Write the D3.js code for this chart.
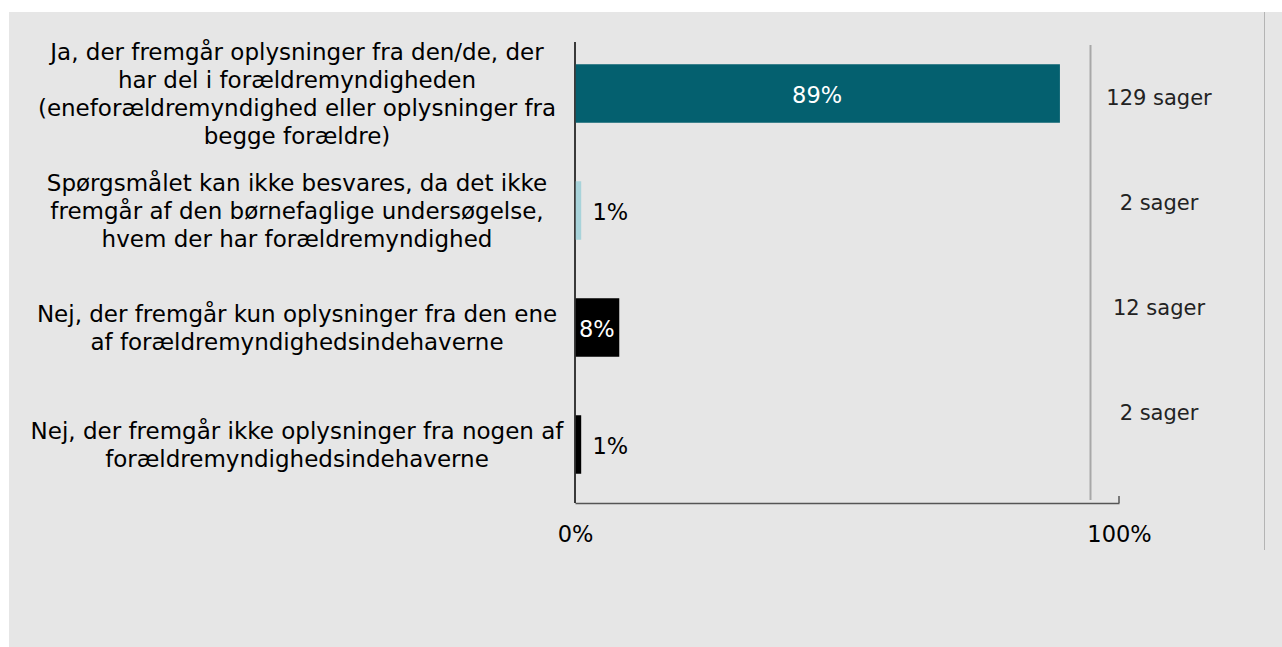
<html>
<head>
    <style>
        body { margin: 0; background-color: #ffffff; }
        svg { display: block; }
        text { font-family: "DejaVu Sans", Verdana, sans-serif; }
    </style>
</head>
<body>
    <div id="chart"></div>
    <script src="https://cdn.jsdelivr.net/npm/d3@7"></script>
    <script>
        // data
        const categories = [
            ["Ja, der fremgår oplysninger fra den/de, der", "har del i forældremyndigheden", "(eneforældremyndighed eller oplysninger fra", "begge forældre)"],
            ["Spørgsmålet kan ikke besvares, da det ikke", "fremgår af den børnefaglige undersøgelse,", "hvem der har forældremyndighed"],
            ["Nej, der fremgår kun oplysninger fra den ene", "af forældremyndighedsindehaverne"],
            ["Nej, der fremgår ikke oplysninger fra nogen af", "forældremyndighedsindehaverne"]
        ];
        const shares = [89, 1, 8, 1];
        const cases = [129, 2, 12, 2];
        const barColors = ["#04606f", "#a8d3da", "#000000", "#000000"];
        const xTicks = [0, 100];

        const width = 1282, height = 647;
        const fontSize = "22.5px";
        const svg = d3.select("#chart").append("svg")
            .attr("width", width).attr("height", height);

        svg.append("rect").attr("x", 9).attr("y", 12)
            .attr("width", width - 9).attr("height", height - 12)
            .attr("fill", "#e6e6e6");
        svg.append("line").attr("x1", 1264.5).attr("x2", 1264.5).attr("y1", 12).attr("y2", 550)
            .attr("stroke", "#b4b4b4").attr("stroke-width", 1);

        const ids = d3.range(categories.length);
        const x = d3.scaleLinear().domain([0, 100]).range([575, 1119]);
        const y = d3.scaleBand().domain(ids).range([35, 503]).paddingInner(0.5).paddingOuter(0.25);
        const yRight = d3.scalePoint().domain(ids).range([98, 413]);

        // axes
        const xAxis = svg.append("g")
            .attr("transform", "translate(0,503)")
            .call(d3.axisBottom(x).tickValues(xTicks).tickFormat(d => d + "%").tickSize(0).tickPadding(23));
        xAxis.select(".domain").attr("stroke", "#555").attr("stroke-width", 1.5);
        xAxis.selectAll("text").style("font-size", fontSize).attr("fill", "#000")
            .style("font-family", "\"DejaVu Sans\", Verdana, sans-serif");
        svg.append("line").attr("x1", x(100)).attr("x2", x(100)).attr("y1", 496).attr("y2", 503)
            .attr("stroke", "#555").attr("stroke-width", 1.5);
        svg.append("line").attr("x1", x(0)).attr("x2", x(0)).attr("y1", 42).attr("y2", 503)
            .attr("stroke", "#000").attr("stroke-width", 1.5);

        // gray separator
        svg.append("line").attr("x1", 1090.5).attr("x2", 1090.5).attr("y1", 45).attr("y2", 500)
            .attr("stroke", "#a8a8a8").attr("stroke-width", 2);

        // bars
        svg.selectAll(".bar").data(ids).enter().append("rect")
            .attr("class", "bar")
            .attr("x", x(0) + 0.75)
            .attr("y", d => y(d))
            .attr("width", d => x(shares[d]) - x(0))
            .attr("height", y.bandwidth())
            .attr("fill", d => barColors[d]);

        // value labels
        svg.selectAll(".value").data(ids).enter().append("text")
            .attr("class", "value")
            .attr("x", d => shares[d] > 5 ? (x(0) + x(shares[d])) / 2 : x(shares[d]) + 12)
            .attr("y", d => y(d) + y.bandwidth() / 2 + 2)
            .attr("dy", "0.35em")
            .attr("text-anchor", d => shares[d] > 5 ? "middle" : "start")
            .attr("fill", d => shares[d] > 5 ? "#fff" : "#000")
            .style("font-size", fontSize)
            .text(d => shares[d] + "%");

        // category labels
        const lineH = 28;
        const labels = svg.selectAll(".cat").data(ids).enter().append("text")
            .attr("class", "cat")
            .attr("text-anchor", "middle")
            .style("font-size", "23px")
            .attr("fill", "#000");
        labels.selectAll("tspan").data(d => categories[d].map((t, i, a) => ({ t, i, n: a.length, d })))
            .enter().append("tspan")
            .attr("x", 297)
            .attr("y", o => y(o.d) + y.bandwidth() / 2 + (o.i - (o.n - 1) / 2) * lineH)
            .attr("dy", "0.35em")
            .text(o => o.t);

        // case counts
        svg.selectAll(".cases").data(ids).enter().append("text")
            .attr("class", "cases")
            .attr("x", 1159)
            .attr("y", d => yRight(d))
            .attr("dy", "0.35em")
            .attr("text-anchor", "middle")
            .attr("fill", "#222")
            .style("font-size", "21px")
            .text(d => cases[d] + " sager");
    </script>
</body>
</html>
